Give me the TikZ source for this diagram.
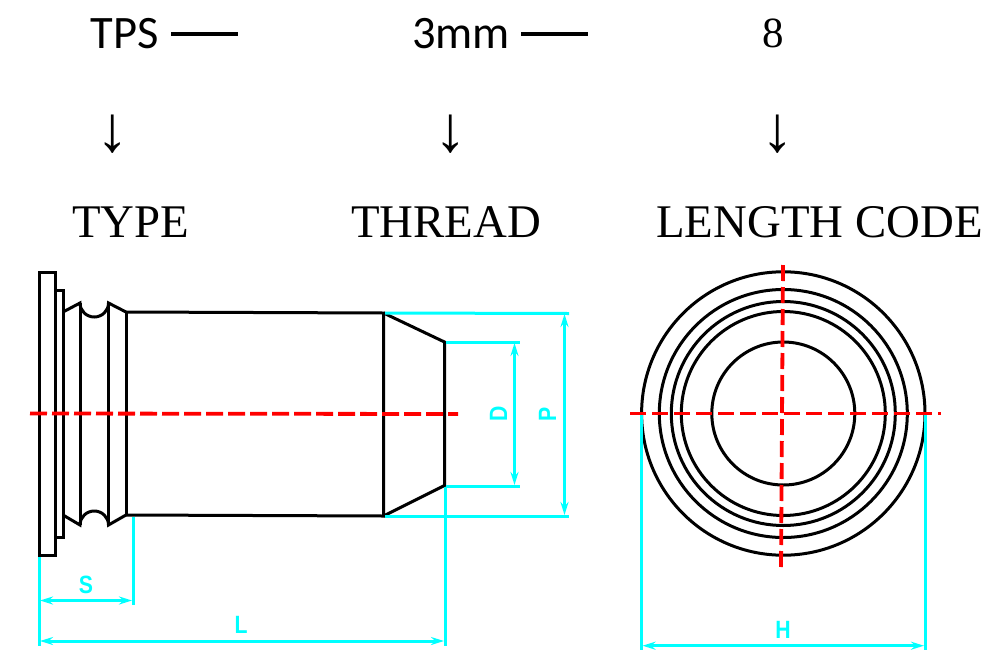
\documentclass[tikz,border=0pt]{standalone}
\usepackage{fontspec}
\setmainfont{Liberation Serif}
\newfontfamily\calib{Carlito}
\newfontfamily\cad{Liberation Sans}
\usetikzlibrary{arrows.meta}
\definecolor{cy}{RGB}{0,255,255}
\newcommand{\dimtxt}[1]{\scalebox{0.85}[1]{#1}}
\tikzset{
 x=1pt,y=-1pt,
 part/.style={draw=black,line width=3pt,line join=miter},
 ring/.style={draw=black,line width=3pt},
 ext/.style={draw=cy,line width=3pt},
 dim/.style={draw=cy,line width=3pt,{Stealth[length=13pt,width=8pt]}-{Stealth[length=13pt,width=8pt]}},
 axis/.style={draw=red,line width=3.8pt,dash pattern=on 17pt off 5pt},
 axisb/.style={draw=red,line width=3.8pt,dash pattern=on 16pt off 6pt},
 serif/.style={font=\fontsize{46.8}{50}\selectfont,inner sep=0pt,anchor=center},
 cal/.style={font=\calib\fontsize{46.5}{50}\selectfont,inner sep=0pt,anchor=center},
 dimlabel/.style={text=cy,font=\cad\bfseries\fontsize{25}{26}\selectfont,inner sep=0pt},
 arrowtext/.style={inner sep=0pt,font=\fontsize{65}{70}\selectfont},
 dashbar/.style={draw=black,line width=3.4pt}
}
\begin{document}
\begin{tikzpicture}
\useasboundingbox (0,0) rectangle (996,667);
% header
\node[cal] (tps) at (125,34) {TPS};
\node[cal] (mm) at (461,34) {3mm};
\node[serif,font=\fontsize{43}{46}\selectfont] (eight) at (773,33) {8};
\coordinate (tpsa) at (171,34); \coordinate (tpsb) at (238,34);
\coordinate (mma) at (521,34); \coordinate (mmb) at (588,34);
\draw[dashbar] (tpsa) -- (tpsb);
\draw[dashbar] (mma) -- (mmb);
\node[arrowtext] (a1) at (112.5,134) {↓};
\node[arrowtext] (a2) at (451,134) {↓};
\node[arrowtext] (a3) at (778,134) {↓};
\node[serif] (type) at (130.5,222) {TYPE};
\node[serif] (thread) at (446,222) {THREAD};
\node[serif] (length) at (819.5,222) {LENGTH CODE};
% side view
\draw[part] (39,272) rectangle (55.7,555);
\draw[part] (55.7,290) -- (63,290) -- (63,537.5) -- (55.7,537.5);
\draw[part] (63,312) -- (80,303) arc[start angle=180,end angle=0,x radius=14.25,y radius=14] -- (126,312);
\draw[part] (63,515) -- (80,525) arc[start angle=180,end angle=360,x radius=14.25,y radius=14] -- (126,515);
\draw[part] (80,303) -- (80,525);
\draw[part] (108.5,303) -- (108.5,525);
\draw[part] (126,312) -- (126,515);
\draw[part] (126,312) -- (383.5,313) -- (383.5,516) -- (126,515);
\draw[part] (383.5,313) -- (444.5,342) -- (444.5,485.5) -- (383.5,516);
% side extension and dimension lines
\draw[ext] (385,313) -- (569,313.5);
\draw[ext] (385,516) -- (569,516);
\draw[ext] (446,342.5) -- (520,342.5);
\draw[ext] (446,486) -- (520,486);
\draw[ext] (445,487) -- (445,646);
\draw[ext] (133,517) -- (133,605);
\draw[ext] (39.5,557) -- (39.5,646);
\draw[dim] (564.5,314) -- (564.5,515);
\draw[dim] (514.5,343) -- (514.5,485);
\draw[dim] (40,600.5) -- (132,600.5);
\draw[dim] (40,641) -- (444,641);
\node[dimlabel,rotate=90] (d) at (498.5,414) {\dimtxt{D}};
\node[dimlabel,rotate=90] (p) at (547.5,414) {\dimtxt{P}};
\node[dimlabel] (s) at (86,585) {\dimtxt{S}};
\node[dimlabel] (l) at (241,625) {\dimtxt{L}};
\node[dimlabel] (h) at (783,630) {\dimtxt{H}};
% front view
\foreach \r in {141.7,124,112,102,71.5}
  \draw[ring] (783.3,413.5) circle[radius=\r];
\draw[ext] (641.7,415) -- (641.7,650);
\draw[ext] (925,415) -- (925,650);
\draw[dim] (642.5,645.7) -- (924,645.7);
% centre lines
\draw[axis] (30,413.5) -- (458,414);
\draw[axisb] (630,413.5) -- (941,413.5);
\draw[axisb] (783,265) -- (781,570);
\end{tikzpicture}
\end{document}
